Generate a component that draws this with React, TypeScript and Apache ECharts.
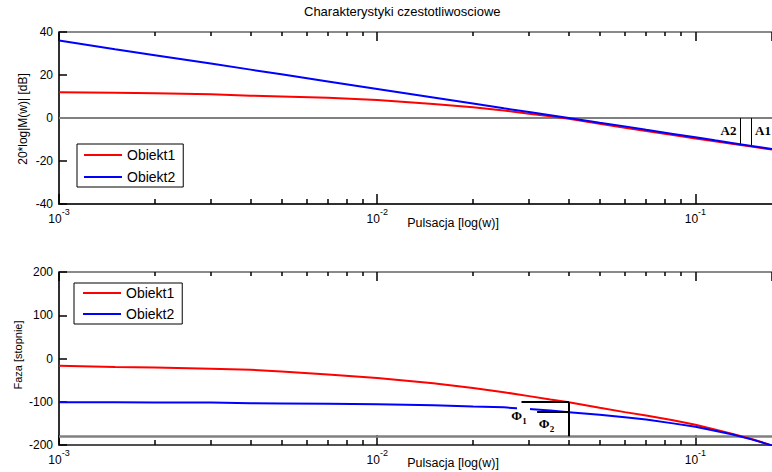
import React, { useEffect, useRef } from "react";
import * as echarts from "echarts";

const TITLE = "Charakterystyki czestotliwosciowe";
const X_NAME = "Pulsacja [log(w)]";
const Y_NAME_MAG = "20*log|M(w)| [dB]";
const Y_NAME_PH = "Faza [stopnie]";
const NAMES = ["Obiekt1", "Obiekt2"];

// frequencies (rad/s)
const W = [0.001, 0.0015, 0.002, 0.003, 0.004, 0.005, 0.007, 0.01, 0.015, 0.02, 0.025, 0.03, 0.035, 0.04, 0.05, 0.06, 0.07, 0.085, 0.1, 0.115, 0.13, 0.15, 0.174];
// magnitude [dB]
const MAG1 = [12.0, 11.7, 11.5, 11.0, 10.4, 10.0, 9.4, 8.4, 6.5, 5.0, 3.5, 2.0, 0.8, -0.3, -2.7, -4.5, -6.0, -7.9, -9.5, -10.8, -12.0, -13.3, -14.7];
const MAG2 = [36.0, 32.0, 29.2, 25.3, 22.5, 20.3, 17.0, 13.5, 9.5, 6.7, 4.5, 2.8, 1.3, 0.0, -2.2, -3.9, -5.5, -7.4, -9.0, -10.4, -11.6, -13.0, -14.4];
// phase [deg]
const PH1 = [-17, -19.5, -21, -23.5, -26, -30, -37, -45, -57, -68, -78, -87, -95, -101, -114, -124, -132, -143, -153, -164, -174, -186, -201];
const PH2 = [-101, -101, -101.5, -102, -103.5, -104, -104.5, -106, -108, -111, -113, -117, -120.5, -124, -130, -136, -141, -150, -158, -167, -175, -187, -201];

const X_MIN = 0.001;
const X_MAX = 0.174;
const X_MINOR = [0.002, 0.003, 0.004, 0.005, 0.006, 0.007, 0.008, 0.009, 0.02, 0.03, 0.04, 0.05, 0.06, 0.07, 0.08, 0.09];
const MAG_RANGE = [-40, 40];
const MAG_STEP = 20;
const PH_RANGE = [-200, 200];
const PH_STEP = 100;

// annotations
const A2_W = 0.138;
const A2_END = -12.1;
const A1_W = 0.15;
const A1_END = -12.9;
const PHI_IDX = W.indexOf(0.04);
const PHI1_FROM = 0.0284;
const PHI2_FROM = 0.0318;
const PHASE_REF = -180;

const SANS = '"Liberation Sans", Arial, Helvetica, sans-serif';
const SERIF = '"Liberation Serif", "Times New Roman", serif';
const RED = "#ff0000";
const BLUE = "#0000ff";

const GRID_H = [172, 173];
const PLOT_W = 713;

const pairs = (ys: number[]) => W.map((w, i) => [w, ys[i]]);

const tickStyle = { color: "#000", width: 1.5, type: "solid" };

// minor tick marks as short segments, lengths in pixels converted through the axis span
function minorTicks(range: number[], gridH: number) {
  const perPx = (range[1] - range[0]) / gridH;
  const out: any[] = [];
  X_MINOR.forEach((w) => {
    out.push([{ coord: [w, range[0]], lineStyle: tickStyle }, { coord: [w, range[0] + 5 * perPx] }]);
    out.push([{ coord: [w, range[1]], lineStyle: tickStyle }, { coord: [w, range[1] - 4 * perPx] }]);
  });
  return out;
}

const xLabel = {
  show: true,
  margin: 3,
  showMaxLabel: false,
  formatter: (v: number) => {
    const e = Math.log10(v);
    const r = Math.round(e);
    return Math.abs(e - r) < 1e-6 ? `{b|10}{s|${r}}` : "";
  },
  rich: {
    b: { fontSize: 12, fontFamily: SANS, color: "#000", lineHeight: 18, verticalAlign: "bottom" },
    s: { fontSize: 9, fontFamily: SANS, color: "#000", lineHeight: 10, verticalAlign: "top" },
  },
};

function xAxes(gridIndex: number, bottomColor: string) {
  return [
    {
      gridIndex,
      type: "log",
      logBase: 10,
      min: X_MIN,
      max: X_MAX,
      position: "bottom",
      axisLine: { show: true, onZero: false, lineStyle: { color: bottomColor, width: 2 } },
      axisTick: { show: true, inside: true, length: 10, lineStyle: { color: "#000", width: 1.5 } },
      splitLine: { show: false },
      axisLabel: xLabel,
    },
    {
      gridIndex,
      type: "log",
      logBase: 10,
      min: X_MIN,
      max: X_MAX,
      position: "top",
      axisLine: { show: true, onZero: false, lineStyle: { color: "#8a8a8a", width: 2 } },
      axisTick: { show: true, inside: true, length: 9, lineStyle: { color: "#000", width: 1.5 } },
      splitLine: { show: false },
      axisLabel: { show: false },
    },
  ];
}

function yAxis(gridIndex: number, range: number[], step: number) {
  return {
    gridIndex,
    type: "value",
    min: range[0],
    max: range[1],
    interval: step,
    axisLine: { show: true, onZero: false, lineStyle: { color: "#303030", width: 2 } },
    axisTick: { show: true, inside: true, length: 8, lineStyle: { color: "#000", width: 1.5 } },
    splitLine: { show: false },
    axisLabel: { show: true, margin: 6, fontSize: 12, fontFamily: SANS, color: "#000" },
  };
}

function legend(left: number, top: number, gap: number, padding: number[]) {
  return {
    show: true,
    left,
    top,
    orient: "vertical",
    data: NAMES,
    icon: "rect",
    itemWidth: 38,
    itemHeight: 2,
    itemGap: gap,
    padding,
    borderColor: "#000",
    borderWidth: 1,
    backgroundColor: "#fff",
    selectedMode: false,
    textStyle: { fontSize: 14, fontFamily: SANS, color: "#000" },
  };
}

function lineSeries(name: string, color: string, ys: number[], xi: number, yi: number) {
  return {
    name,
    type: "line",
    xAxisIndex: xi,
    yAxisIndex: yi,
    data: pairs(ys),
    showSymbol: false,
    symbol: "none",
    smooth: false,
    z: 3,
    lineStyle: { color, width: 2 },
    itemStyle: { color },
  };
}

const thin = { color: "#000", width: 1, type: "solid" };
const thick = { color: "#000", width: 2, type: "solid" };

const centered = { align: "center", verticalAlign: "middle", textAlign: "center", textVerticalAlign: "middle" };

const phiRich = {
  p: { fontSize: 13, fontWeight: "bold", fontFamily: SERIF, fill: "#000", lineHeight: 16, verticalAlign: "top" },
  s: { fontSize: 9, fontWeight: "bold", fontFamily: SERIF, fill: "#000", lineHeight: 9, verticalAlign: "bottom" },
};

const option: any = {
  animation: false,
  backgroundColor: "#fff",
  title: {
    text: TITLE,
    left: 304,
    top: 5,
    padding: 0,
    textStyle: { fontSize: 13, fontWeight: "normal", fontFamily: SANS, color: "#000" },
  },
  grid: [
    { left: 59, top: 32, width: PLOT_W, height: GRID_H[0], outerBoundsMode: "none" },
    { left: 59, top: 272, width: PLOT_W, height: GRID_H[1], outerBoundsMode: "none" },
  ],
  xAxis: [...xAxes(0, "#303030"), ...xAxes(1, "#505050")],
  yAxis: [yAxis(0, MAG_RANGE, MAG_STEP), yAxis(1, PH_RANGE, PH_STEP)],
  legend: [legend(77, 144, 8, [4, 8, 3, 7]), legend(74, 283, 7, [3, 8, 3, 9])],
  series: [
    {
      type: "line",
      xAxisIndex: 0,
      yAxisIndex: 0,
      data: [],
      silent: true,
      markLine: {
        silent: true,
        symbol: "none",
        z: 1,
        label: { show: false },
        lineStyle: thin,
        data: [
          { yAxis: 0, lineStyle: { color: "#808080", width: 2, type: "solid" } },
          [{ coord: [A2_W, 0], lineStyle: thin }, { coord: [A2_W, A2_END] }],
          [{ coord: [A1_W, 0], lineStyle: thin }, { coord: [A1_W, A1_END] }],
          ...minorTicks(MAG_RANGE, GRID_H[0]),
        ],
      },
    },
    {
      type: "line",
      xAxisIndex: 2,
      yAxisIndex: 1,
      data: [],
      silent: true,
      markLine: {
        silent: true,
        symbol: "none",
        z: 1,
        label: { show: false },
        lineStyle: thick,
        data: [
          { yAxis: PHASE_REF, lineStyle: { color: "#808080", width: 2.5, type: "solid" } },
          ...minorTicks(PH_RANGE, GRID_H[1]),
        ],
      },
    },
    lineSeries(NAMES[0], RED, MAG1, 0, 0),
    lineSeries(NAMES[1], BLUE, MAG2, 0, 0),
    lineSeries(NAMES[0], RED, PH1, 2, 1),
    lineSeries(NAMES[1], BLUE, PH2, 2, 1),
    {
      type: "line",
      xAxisIndex: 2,
      yAxisIndex: 1,
      data: [],
      silent: true,
      markLine: {
        silent: true,
        symbol: "none",
        z: 5,
        label: { show: false },
        lineStyle: thick,
        data: [
          [{ coord: [W[PHI_IDX], PHASE_REF], lineStyle: thick }, { coord: [W[PHI_IDX], PH1[PHI_IDX]] }],
          [{ coord: [PHI1_FROM, PH1[PHI_IDX]], lineStyle: thick }, { coord: [W[PHI_IDX], PH1[PHI_IDX]] }],
          [{ coord: [PHI2_FROM, PH2[PHI_IDX]], lineStyle: thick }, { coord: [W[PHI_IDX], PH2[PHI_IDX]] }],
        ],
      },
    },
  ],
  graphic: [
    { type: "text", x: 453, y: 223, z: 100, style: { text: X_NAME, fontSize: 12.5, fontFamily: SANS, fill: "#000", ...centered } },
    { type: "text", x: 453, y: 463, z: 100, style: { text: X_NAME, fontSize: 12.5, fontFamily: SANS, fill: "#000", ...centered } },
    { type: "text", x: 22.5, y: 119, rotation: Math.PI / 2, z: 100, style: { text: Y_NAME_MAG, fontSize: 12, fontFamily: SANS, fill: "#000", ...centered } },
    { type: "text", x: 17.5, y: 355, rotation: Math.PI / 2, z: 100, style: { text: Y_NAME_PH, fontSize: 11, fontFamily: SANS, fill: "#000", ...centered } },
    { type: "text", x: 728.5, y: 130, z: 100, style: { text: "A2", fontSize: 13, fontWeight: "bold", fontFamily: SERIF, fill: "#000", ...centered } },
    { type: "text", x: 763, y: 130, z: 100, style: { text: "A1", fontSize: 13, fontWeight: "bold", fontFamily: SERIF, fill: "#000", ...centered } },
    { type: "rect", z: 90, shape: { x: 517, y: 404, width: 13, height: 8 }, style: { fill: "#fff" } },
    { type: "text", x: 519, y: 417, z: 100, style: { text: "{p|Φ}{s|1}", ...centered, rich: phiRich } },
    { type: "text", x: 546.5, y: 425, z: 100, style: { text: "{p|Φ}{s|2}", ...centered, rich: phiRich } },
  ],
};

export default function App() {
  const ref = useRef<HTMLDivElement>(null);
  useEffect(() => {
    const chart = echarts.init(ref.current as HTMLDivElement, null, { renderer: "svg" });
    chart.setOption(option);
    return () => chart.dispose();
  }, []);
  return (
    <div
      ref={ref}
      style={{ position: "absolute", left: 0, top: 0, width: 772, height: 472, background: "#fff" }}
    />
  );
}
